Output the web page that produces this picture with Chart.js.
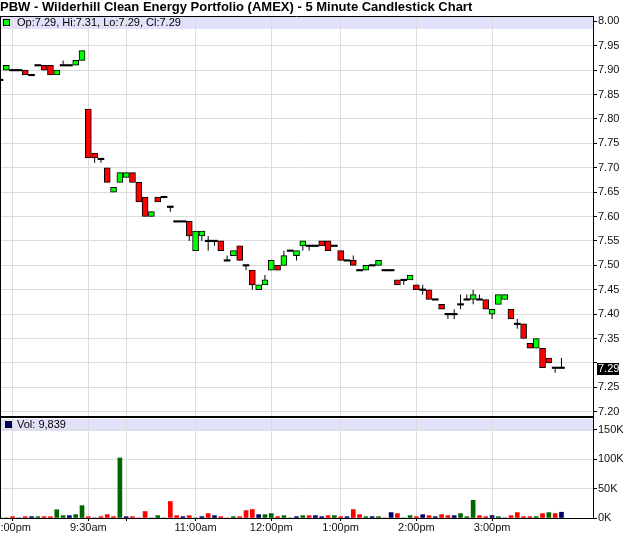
<!DOCTYPE html>
<html>
<head>
<meta charset="utf-8">
<title>PBW - 5 Minute Candlestick Chart</title>
<script src="https://cdn.jsdelivr.net/npm/chart.js@4.4.1/dist/chart.umd.min.js"></script>
<style>
  html, body { margin: 0; padding: 0; background: #fff; }
  #wrap { position: relative; width: 640px; height: 536px; overflow: hidden; }
  #priceChart { position: absolute; left: 0; top: 0; }
  #volumeChart { position: absolute; left: 0; top: 418px; }
</style>
</head>
<body>
<div id="wrap">
  <canvas id="priceChart" width="640" height="418"></canvas>
  <canvas id="volumeChart" width="640" height="118"></canvas>
</div>
<script>
// PBW 5-minute bars (slot 0 = 2:50pm prior day)
const opens = [
  7.88, 7.90, 7.90, 7.90, 7.90, 7.89, 7.91, 7.91, 7.91, 7.89,
  7.91, 7.91, 7.91, 7.92, 7.82, 7.73, 7.718, 7.70, 7.65, 7.67,
  7.68, 7.69, 7.67, 7.64, 7.60, 7.64, 7.64, 7.62, 7.59, 7.59,
  7.59, 7.53, 7.56, 7.55, 7.55, 7.55, 7.51, 7.52, 7.54, 7.50,
  7.49, 7.45, 7.46, 7.49, 7.50, 7.50, 7.53, 7.52, 7.54, 7.54,
  7.54, 7.55, 7.55, 7.54, 7.53, 7.51, 7.51, 7.49, 7.49, 7.50,
  7.50, 7.49, 7.49, 7.47, 7.47, 7.47, 7.46, 7.45, 7.45, 7.43,
  7.42, 7.40, 7.40, 7.42, 7.43, 7.43, 7.43, 7.43, 7.40, 7.42,
  7.43, 7.41, 7.38, 7.38, 7.34, 7.33, 7.33, 7.31, 7.29, 7.29
];
const highs = [
  7.88, 7.91, 7.90, 7.90, 7.90, 7.89, 7.91, 7.91, 7.91, 7.90,
  7.92, 7.91, 7.92, 7.94, 7.82, 7.73, 7.718, 7.70, 7.66, 7.69,
  7.69, 7.69, 7.67, 7.64, 7.61, 7.64, 7.64, 7.62, 7.59, 7.59,
  7.59, 7.57, 7.57, 7.56, 7.55, 7.55, 7.52, 7.53, 7.54, 7.50,
  7.49, 7.46, 7.48, 7.51, 7.50, 7.53, 7.53, 7.53, 7.55, 7.54,
  7.54, 7.55, 7.55, 7.54, 7.53, 7.51, 7.52, 7.49, 7.50, 7.50,
  7.51, 7.49, 7.49, 7.47, 7.47, 7.48, 7.46, 7.46, 7.45, 7.43,
  7.42, 7.40, 7.41, 7.44, 7.44, 7.45, 7.44, 7.43, 7.41, 7.44,
  7.44, 7.41, 7.39, 7.38, 7.34, 7.35, 7.33, 7.31, 7.29, 7.31
];
const lows = [
  7.88, 7.90, 7.90, 7.90, 7.89, 7.89, 7.91, 7.90, 7.89, 7.89,
  7.91, 7.91, 7.91, 7.92, 7.72, 7.71, 7.71, 7.67, 7.65, 7.67,
  7.68, 7.67, 7.63, 7.60, 7.60, 7.63, 7.64, 7.61, 7.59, 7.59,
  7.55, 7.53, 7.55, 7.53, 7.54, 7.53, 7.51, 7.52, 7.51, 7.49,
  7.45, 7.45, 7.46, 7.49, 7.49, 7.50, 7.53, 7.51, 7.53, 7.53,
  7.54, 7.54, 7.53, 7.54, 7.51, 7.51, 7.50, 7.49, 7.49, 7.50,
  7.50, 7.49, 7.49, 7.46, 7.46, 7.47, 7.45, 7.44, 7.43, 7.43,
  7.41, 7.39, 7.39, 7.41, 7.43, 7.42, 7.43, 7.41, 7.39, 7.42,
  7.43, 7.39, 7.37, 7.35, 7.33, 7.33, 7.29, 7.30, 7.28, 7.29
];
const closes = [
  7.88, 7.91, 7.90, 7.90, 7.89, 7.89, 7.91, 7.90, 7.89, 7.90,
  7.91, 7.91, 7.92, 7.94, 7.72, 7.72, 7.718, 7.67, 7.66, 7.69,
  7.69, 7.67, 7.63, 7.60, 7.61, 7.63, 7.64, 7.62, 7.59, 7.59,
  7.56, 7.57, 7.57, 7.55, 7.55, 7.53, 7.51, 7.53, 7.51, 7.50,
  7.46, 7.46, 7.47, 7.51, 7.49, 7.52, 7.53, 7.53, 7.55, 7.54,
  7.54, 7.54, 7.53, 7.54, 7.51, 7.51, 7.50, 7.49, 7.50, 7.50,
  7.51, 7.49, 7.49, 7.46, 7.47, 7.48, 7.45, 7.45, 7.43, 7.43,
  7.41, 7.40, 7.40, 7.42, 7.43, 7.44, 7.43, 7.41, 7.41, 7.44,
  7.44, 7.39, 7.38, 7.35, 7.33, 7.35, 7.29, 7.30, 7.29, 7.29
];
const volumes = [
  0, 0, 2300, 0, 2300, 2300, 2300, 2300, 2300, 14000,
  4000, 4000, 5700, 21000, 2300, 0, 2300, 5700, 2300, 102000,
  2300, 2300, 0, 11000, 0, 4000, 0, 28000, 4000, 2300,
  4000, 0, 2300, 7500, 4000, 2300, 0, 2300, 2300, 12600,
  14400, 5700, 5700, 7500, 2300, 4000, 0, 2300, 4000, 4000,
  4000, 2300, 4000, 4000, 2300, 2300, 14400, 5700, 2300, 2300,
  2300, 0, 9200, 7500, 0, 4000, 2300, 5700, 4000, 2300,
  5700, 4000, 4000, 7500, 2300, 30000, 4000, 2300, 4000, 2300,
  0, 4000, 9200, 2300, 2300, 2300, 7500, 9200, 7500, 9839
];

// time axis: slots that get a grid line, and their labels
const gridSlots = [2, 14, 20, 31, 43, 54, 66, 78];
const gridLabels = ["3:00pm", "9:30am", "", "11:00am", "12:00pm", "1:00pm", "2:00pm", "3:00pm"];
const slotCount = 95;

const priceTicks = [7.20, 7.25, 7.30, 7.35, 7.40, 7.45, 7.50, 7.55, 7.60,
                    7.65, 7.70, 7.75, 7.80, 7.85, 7.90, 7.95, 8.00];
const volumeTicks = [0, 50000, 100000, 150000];

const TITLE = "PBW - Wilderhill Clean Energy Portfolio (AMEX) - 5 Minute Candlestick Chart";
const FONT = "'Liberation Sans', Arial, Helvetica, sans-serif";
const GRID = "#dcdcdc";
const BAND = "#e1e1f9";
const UP = "#00ff00";
const DOWN = "#ff0000";
const DOJI = 0.0015;

/* ==============================
   DERIVED SERIES
============================== */
const slots = Array.from({ length: slotCount }, (_, i) => i);
const last = closes.length - 1;

const bodyData = opens.map((o, i) => {
  const c = closes[i];
  if (o === c) return [o - DOJI, o + DOJI];
  return [Math.min(o, c), Math.max(o, c)];
});
const wickData = lows.map((l, i) => [l, highs[i]]);

function candleColor(i) {
  if (opens[i] === closes[i]) return "#000";
  return closes[i] > opens[i] ? UP : DOWN;
}

function volumeColor(i) {
  if (i === 0 || closes[i] === closes[i - 1]) return "#000066";
  return closes[i] > closes[i - 1] ? "#006600" : "#ff0000";
}

function fmtNum(n) {
  return n.toLocaleString("en-US");
}

/* ==============================
   SHARED SCALE HELPERS
============================== */
function slotTicks(scale) {
  scale.ticks = gridSlots.map(v => ({ value: v }));
}

function noPadX(scale) {
  scale.paddingLeft = 0;
  scale.paddingRight = 0;
}

function rightAxisFit(scale) {
  scale.width = 47;
  scale.paddingTop = 0;
  scale.paddingBottom = 0;
}

// lavender band, frame lines, legend swatch + text, last price marker
function panelPlugin(cfg) {
  return {
    id: "panel",
    beforeDraw(chart) {
      const a = chart.chartArea;
      const ctx = chart.ctx;
      ctx.save();
      ctx.fillStyle = BAND;
      ctx.fillRect(a.left, a.top + 1, a.right - a.left, 12);
      ctx.restore();
    },
    afterDraw(chart) {
      const a = chart.chartArea;
      const ctx = chart.ctx;
      ctx.save();
      ctx.strokeStyle = "#000";
      ctx.lineWidth = 1;
      ctx.beginPath();
      ctx.moveTo(0.5, a.top);
      ctx.lineTo(0.5, a.bottom);
      if (cfg.topLine) {
        ctx.moveTo(a.left, a.top + 0.5);
        ctx.lineTo(a.right, a.top + 0.5);
      }
      ctx.stroke();

      // legend swatch
      ctx.fillStyle = cfg.swatch;
      ctx.fillRect(cfg.swatchX, a.top + 3, 7, 7);
      ctx.strokeRect(cfg.swatchX + 0.5, a.top + 3.5, 6, 6);

      ctx.fillStyle = "#000";
      ctx.font = "11px " + FONT;
      ctx.textBaseline = "middle";
      ctx.textAlign = "left";
      ctx.fillText(cfg.text, 17, a.top + 7);

      if (cfg.markLast) {
        const y = chart.scales.y.getPixelForValue(closes[last]);
        ctx.fillStyle = "#000";
        ctx.fillRect(a.right + 4, Math.round(y) - 5, 22, 12);
        ctx.fillStyle = "#fff";
        ctx.fillText(closes[last].toFixed(2), a.right + 5, Math.round(y) + 1);
      }
      ctx.restore();
    }
  };
}

Chart.defaults.font.family = FONT;
Chart.defaults.font.size = 11;
Chart.defaults.color = "#111";

/* ==============================
   PRICE PANEL
============================== */
new Chart(document.getElementById("priceChart"), {
  type: "bar",
  data: {
    labels: slots,
    datasets: [
      {
        label: "Candle",
        data: bodyData,
        grouped: false,
        order: 1,
        barThickness: 6,
        backgroundColor: ctx => candleColor(ctx.dataIndex),
        borderColor: "#000",
        borderWidth: ctx => (opens[ctx.dataIndex] === closes[ctx.dataIndex] ? 0 : 1),
        borderSkipped: false
      },
      {
        label: "Range",
        data: wickData,
        grouped: false,
        order: 2,
        barThickness: 1,
        backgroundColor: "#000",
        borderWidth: 0,
        inflateAmount: 0
      }
    ]
  },
  options: {
    responsive: false,
    animation: false,
    events: [],
    layout: { padding: { left: 0, right: 0, top: 0, bottom: 1 } },
    plugins: {
      legend: { display: false },
      tooltip: { enabled: false },
      title: {
        display: true,
        text: TITLE,
        align: "start",
        color: "#000",
        font: { size: 13, weight: "bold", lineHeight: 1.2 },
        padding: { top: 0, bottom: 0.4 }
      }
    },
    scales: {
      x: {
        offset: false,
        grid: { offset: false, color: GRID, drawTicks: false },
        border: { display: true, color: "#000", width: 2 },
        ticks: { display: false, autoSkip: false },
        afterBuildTicks: slotTicks,
        afterFit: noPadX
      },
      y: {
        position: "right",
        min: 7.1891,
        max: 8.011,
        afterBuildTicks: scale => {
          scale.ticks = priceTicks.map(v => ({ value: v }));
        },
        afterFit: rightAxisFit,
        grid: {
          color: ctx => (ctx.tick && ctx.tick.value === 8.00 ? "rgba(0,0,0,0)" : GRID),
          tickLength: 4,
          tickColor: "#000"
        },
        border: { color: "#000" },
        ticks: {
          padding: 1,
          color: "#111",
          callback: v => (Math.abs(v - closes[last]) < 0.025 ? "" : v.toFixed(2))
        }
      }
    }
  },
  plugins: [panelPlugin({
    swatch: UP,
    swatchX: 3,
    topLine: true,
    markLast: true,
    text: "Op:" + opens[last].toFixed(2) + ", Hi:" + highs[last].toFixed(2) +
          ", Lo:" + lows[last].toFixed(2) + ", Cl:" + closes[last].toFixed(2)
  })]
});

/* ==============================
   VOLUME PANEL
============================== */
new Chart(document.getElementById("volumeChart"), {
  type: "bar",
  data: {
    labels: slots,
    datasets: [{
      label: "Vol",
      data: volumes,
      barThickness: 4,
      backgroundColor: ctx => volumeColor(ctx.dataIndex)
    }]
  },
  options: {
    responsive: false,
    animation: false,
    events: [],
    layout: { padding: { left: 0, right: 0, top: 0, bottom: 1.8 } },
    plugins: {
      legend: { display: false },
      tooltip: { enabled: false }
    },
    scales: {
      x: {
        offset: false,
        grid: { offset: false, color: GRID, tickLength: 3, tickColor: "#000" },
        border: { color: "#000" },
        ticks: {
          autoSkip: false,
          maxRotation: 0,
          padding: 0,
          color: "#111",
          callback: v => gridLabels[gridSlots.indexOf(v)]
        },
        afterBuildTicks: slotTicks,
        afterFit: noPadX
      },
      y: {
        position: "right",
        min: 0,
        max: 170000,
        afterBuildTicks: scale => {
          scale.ticks = volumeTicks.map(v => ({ value: v }));
        },
        afterFit: rightAxisFit,
        grid: { color: GRID, tickLength: 4, tickColor: "#000" },
        border: { color: "#000" },
        ticks: {
          padding: 1,
          color: "#111",
          callback: v => v / 1000 + "K"
        }
      }
    }
  },
  plugins: [panelPlugin({
    swatch: "#000066",
    swatchX: 5,
    topLine: false,
    markLast: false,
    text: "Vol: " + fmtNum(volumes[last])
  })]
});
</script>
</body>
</html>
